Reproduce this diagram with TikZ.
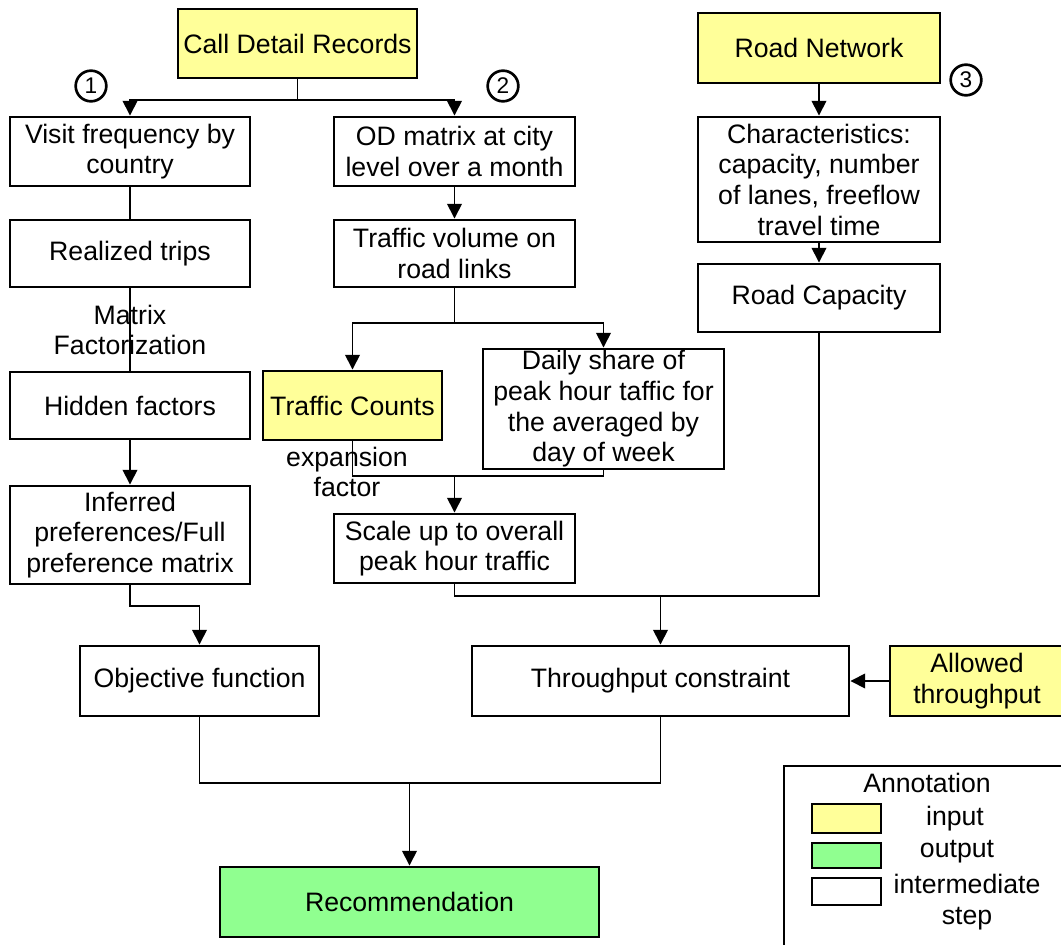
\documentclass[tikz,border=0pt]{standalone}
\usepackage{fontspec}
\setmainfont{Liberation Sans}
\usetikzlibrary{arrows.meta}
\definecolor{inyellow}{RGB}{255,255,153}
\definecolor{outgreen}{RGB}{144,255,144}

% \placebox{style}{name}{x1}{y1}{x2}{y2}{text}: a box given by its corners
\newcommand\placebox[7]{%
  \pgfmathsetmacro\pbcx{(#3+#5)/2}%
  \pgfmathsetmacro\pbcy{(#4+#6)/2}%
  \pgfmathsetmacro\pbw{(#5-#3)*0.75}%
  \pgfmathsetmacro\pbh{(#6-#4)*0.75}%
  \node[#1, minimum width=\pbw pt, minimum height=\pbh pt] (#2) at (\pbcx,\pbcy) {#7};}

\begin{document}
\begin{tikzpicture}[x=0.75pt,y=-0.75pt,
  txt/.style={font=\fontsize{20}{23}\selectfont, align=center, text=black},
  box/.style={txt, draw=black, line width=2.2pt, inner sep=0pt, fill=white},
  inbox/.style={box, fill=inyellow},
  outbox/.style={box, fill=outgreen},
  link/.style={line width=1.2pt, draw=black},
  arr/.style={link, -{Triangle[width=11pt,length=11pt]}},
  num/.style={draw, circle, line width=2pt, minimum size=23pt, inner sep=0pt,
              font=\fontsize{17}{17}\selectfont},
  swatch/.style={draw, line width=2.2pt, inner sep=0pt}]

\useasboundingbox (0,0) rectangle (1061,945);

% ---- boxes ----
\placebox{inbox}{cdr}{178}{9}{417}{78}{Call Detail Records}
\placebox{inbox}{rn}{698}{13}{940}{83}{Road Network}
\placebox{box}{vf}{10}{117}{250}{186}{Visit frequency by\\country}
\placebox{box}{od}{334}{117}{575}{186}{OD matrix at city\\level over a month}
\placebox{box}{ch}{698}{117}{940}{242}{Characteristics:\\capacity, number\\of lanes, freeflow\\travel time}
\placebox{box}{rt}{10}{220}{250}{287}{Realized trips}
\placebox{box}{tv}{334}{220}{575}{287}{Traffic volume on\\road links}
\placebox{box}{rc}{698}{264}{940}{332}{Road Capacity}
\placebox{box}{hf}{10}{372}{250}{439}{Hidden factors}
\placebox{inbox}{tc}{263}{371}{442}{440}{Traffic Counts}
\placebox{box}{ds}{483}{349}{724}{469}{Daily share of\\peak hour taffic for\\the averaged by\\day of week}
\placebox{box}{ip}{10}{486}{250}{584}{Inferred\\preferences/Full\\preference matrix}
\placebox{box}{su}{334}{514}{575}{583}{Scale up to overall\\peak hour traffic}
\placebox{box}{of}{80}{646}{319}{716}{Objective function}
\placebox{box}{thc}{472}{646}{849}{716}{Throughput constraint}
\placebox{inbox}{at}{890}{646}{1064}{716}{Allowed\\throughput}
\placebox{outbox}{rec}{220}{867}{599}{937}{Recommendation}

% ---- numbered branches ----
\node[num] (n1) at (91,86)  {1};
\node[num] (n2) at (503,86) {2};
\node[num] (n3) at (966,80) {3};

% ---- junction points ----
\coordinate (splitA) at (297.5,100);
\coordinate (splitB) at (454.5,323);
\coordinate (joinB)  at (454.5,476);
\coordinate (joinC)  at (660.5,596);
\coordinate (kneeL)  at (130,606);
\coordinate (joinD)  at (409.5,783);

% ---- connectors ----
\draw[arr] (cdr.south) -- (splitA) -| (vf.north);
\draw[arr] (splitA) -| (od.north);
\draw[link] (vf.south) -- (rt.north);
\draw[link] (rt.south) -- (hf.north);
\draw[arr] (hf.south) -- (ip.north);
\draw[arr] (ip.south) -- (kneeL) -| (of.north);

\draw[arr] (od.south) -- (tv.north);
\draw[link] (tv.south) -- (splitB);
\draw[arr] (splitB) -| (tc.north);
\draw[arr] (splitB) -| (ds.north);
\draw[link] (tc.south) |- (joinB);
\draw[link] (ds.south) |- (joinB);
\draw[arr] (joinB) -- (su.north);

\draw[arr] (rn.south) -- (ch.north);
\draw[arr] (ch.south) -- (rc.north);
\draw[link] (su.south) |- (joinC);
\draw[link] (rc.south) |- (joinC);
\draw[arr] (joinC) -- (thc.north);
\draw[arr] (at.west) -- (thc.east);

\draw[link] (of.south) |- (joinD);
\draw[link] (thc.south) |- (joinD);
\draw[arr] (joinD) -- (rec.north);

% ---- edge labels ----
\node[txt, inner sep=0pt] (mf) at (130,330) {Matrix\\Factorization};
\node[txt, inner sep=0pt] (ef) at (347,472) {expansion\\factor};

% ---- legend ----
\draw[line width=2.2pt] (784,766) rectangle (1075,960);
\node[txt] (lgtitle) at (927,783) {Annotation};
\placebox{swatch, fill=inyellow}{swin}{812}{804}{881}{833}{}
\placebox{swatch, fill=outgreen}{swout}{812}{843}{881}{868}{}
\placebox{swatch, fill=white}{swmid}{812}{878}{881}{905}{}
\node[txt] (lgin)  at (955,819) {input};
\node[txt] (lgout) at (957,852) {output};
\node[txt] (lgmid) at (967,902) {intermediate\\step};
\end{tikzpicture}
\end{document}
